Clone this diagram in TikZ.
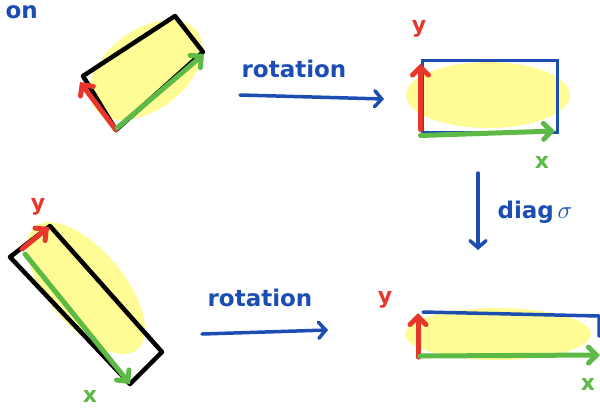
\documentclass[tikz,border=0pt]{standalone}
\usepackage{fontspec}
\setmainfont{DejaVu Sans}
\usetikzlibrary{arrows.meta}
\definecolor{pblue}{RGB}{27,77,179}
\definecolor{pred}{RGB}{232,55,42}
\definecolor{pgreen}{RGB}{94,186,70}
\definecolor{pyellow}{RGB}{255,252,150}
\tikzset{
  blob/.style={fill=pyellow, draw=none},
  outline/.style={line width=4.5pt, line join=round, line cap=round},
  vecarrow/.style={line width=5pt, line cap=round, line join=round,
    -{Straight Barb[length=8pt,width=16pt,line cap=round]}},
  bluearrow/.style={pblue, line width=3.5pt, line cap=round,
    -{Straight Barb[length=7pt,width=16pt,line cap=round]}},
  handtext/.style={font=\fontsize{23}{26}\selectfont\bfseries, text=pblue, inner sep=0pt},
  axlabel/.style={font=\fontsize{22}{24}\selectfont\bfseries, inner sep=0pt}
}
\begin{document}
\begin{tikzpicture}[x=1pt,y=1pt]
\useasboundingbox (0,-408) rectangle (600,0);

% top-left text fragment
\node[handtext, anchor=east] (on) at (38,-12) {on};

% ---- top-left rotated rectangle
\fill[blob, rotate around={37:(146,-70)}] (146,-70) ellipse (64 and 40);
\coordinate (tlA) at (116,-130);
\coordinate (tlB) at (83,-76);
\coordinate (tlC) at (175,-16);
\coordinate (tlD) at (203,-52);
\draw[outline] (tlA) -- (tlB) -- (tlC) -- (tlD) -- cycle;
\draw[vecarrow, pred] (tlA) -- (80,-82);
\draw[vecarrow, pgreen] (117,-128) -- (204,-54);

% ---- top rotation arrow
\node[handtext] (rot1) at (294,-69) {rotation};
\coordinate (r1s) at (240,-95);
\coordinate (r1e) at (384,-99);
\draw[bluearrow] (r1s) -- (r1e);

% ---- top-right rectangle
\fill[blob] (488,-95) ellipse (82 and 33);
\node[draw=pblue, line width=3pt, minimum width=135pt, minimum height=72pt, inner sep=0pt] (trbox) at (489.5,-96) {};
\draw[vecarrow, pred] (trbox.south west) ++(0,4) -- ++(0,66);
\draw[vecarrow, pgreen] (trbox.south west) ++(0,-2) -- (555,-131);
\node[axlabel, text=pred] (ty) at (419,-29) {y};
\node[axlabel, text=pgreen] (tx) at (542,-162) {x};

% ---- diag arrow
\coordinate (dgs) at (478,-173);
\coordinate (dge) at (478,-250);
\draw[bluearrow] (dgs) -- (dge);
\node[handtext] (diag) at (535,-212) {diag\,$\sigma$};

% ---- bottom-left rotated rectangle
\fill[blob, rotate around={-50:(86,-288)}] (86,-288) ellipse (80 and 38);
\coordinate (blA) at (10,-257);
\coordinate (blB) at (50,-226);
\coordinate (blC) at (162,-352);
\coordinate (blD) at (130,-384);
\draw[outline] (blA) -- (blB) -- (blC) -- (blD) -- cycle;
\draw[vecarrow, pgreen] (25,-254) -- (blD);
\draw[vecarrow, pred] (22,-249) -- (49,-227);
\node[axlabel, text=pred] (by1) at (38,-207) {y};
\node[axlabel, text=pgreen] (bx1) at (90,-396) {x};

% ---- bottom rotation arrow
\node[handtext] (rot2) at (260,-298) {rotation};
\coordinate (r2s) at (202,-334);
\coordinate (r2e) at (328,-330);
\draw[bluearrow] (r2s) -- (r2e);

% ---- bottom-right rectangle
\fill[blob] (498,-334) ellipse (93 and 26);
\coordinate (brTL) at (423,-312);
\coordinate (brTR) at (599,-316);
\coordinate (brBR) at (599,-336);
\draw[pblue, line width=3.5pt, line cap=round, line join=round] (brTL) -- (brTR) -- (brBR);
\coordinate (brO) at (418,-357);
\draw[vecarrow, pred] (brO) -- ++(0,44);
\draw[vecarrow, pgreen] (420,-356) -- (600,-355);
\node[axlabel, text=pred] (by2) at (385,-300) {y};
\node[axlabel, text=pgreen] (bx2) at (588,-384) {x};
\end{tikzpicture}
\end{document}
